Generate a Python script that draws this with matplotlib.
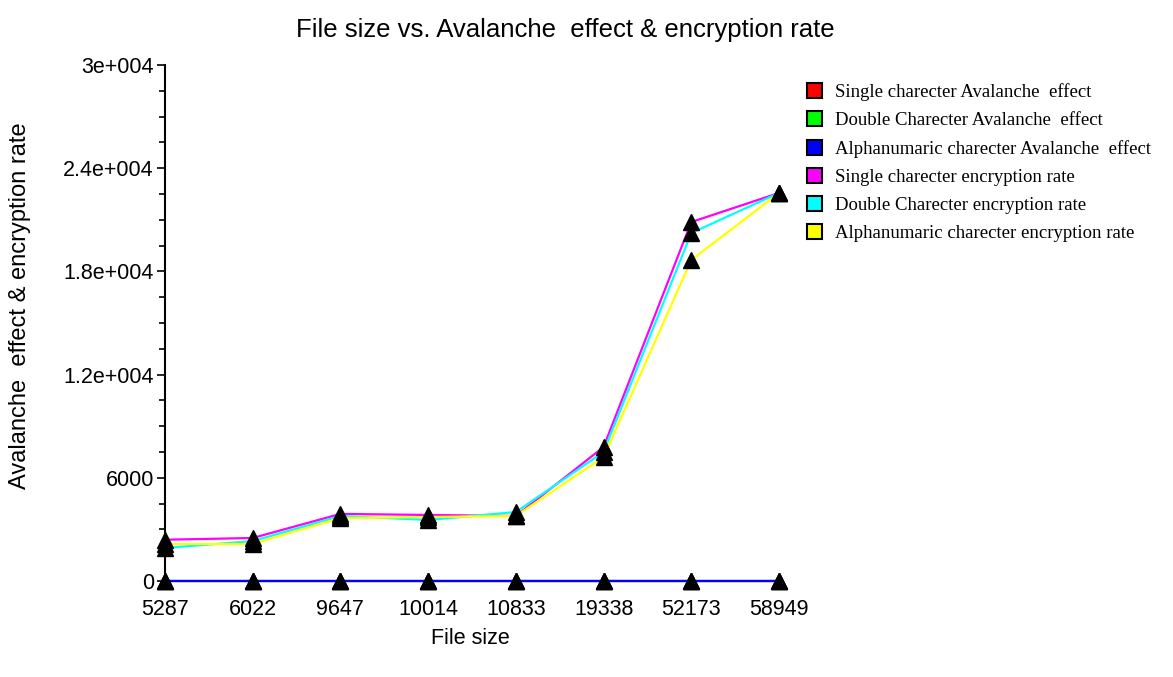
import numpy as np
import matplotlib
matplotlib.use("Agg")
import matplotlib.pyplot as plt
from matplotlib.patches import Patch
from matplotlib.ticker import FixedLocator, MultipleLocator


# File sizes (categorical x axis)
file_sizes = ["5287", "6022", "9647", "10014", "10833", "19338", "52173", "58949"]

# Avalanche effect series (all close to zero on this scale)
single_avalanche = [0, 0, 0, 0, 0, 0, 0, 0]
double_avalanche = [0, 0, 0, 0, 0, 0, 0, 0]
alnum_avalanche = [0, 0, 0, 0, 0, 0, 0, 0]

# Encryption rate series
single_rate = [2400, 2500, 3900, 3840, 3780, 7790, 20870, 22560]
double_rate = [1920, 2320, 3780, 3550, 4010, 7500, 20230, 22560]
alnum_rate = [2150, 2150, 3660, 3720, 3780, 7200, 18660, 22560]

series_names = ["Single charecter Avalanche  effect",
                "Double Charecter Avalanche  effect",
                "Alphanumaric charecter Avalanche  effect",
                "Single charecter encryption rate",
                "Double Charecter encryption rate",
                "Alphanumaric charecter encryption rate"]
series_colors = ["#ff0000", "#00ff00", "#0000ff", "#ff00ff", "#00ffff", "#ffff00"]

y_ticks = [0, 6000, 12000, 18000, 24000, 30000]
y_tick_labels = ["0", "6000", "1.2e+004", "1.8e+004", "2.4e+004", "3e+004"]


def main():
    fig = plt.figure(figsize=(11.73, 6.77), dpi=100)
    ax = fig.add_axes([165/1173, 1-581/677, (779-165)/1173, (581-65)/677])

    x = np.arange(len(file_sizes))
    all_series = [single_avalanche, double_avalanche, alnum_avalanche,
                  single_rate, double_rate, alnum_rate]

    # draw rates first so that avalanche lines sit on the zero line
    order = [3, 4, 5, 0, 1, 2]
    for i in order:
        ax.plot(x, all_series[i], color=series_colors[i], lw=1.6, zorder=2,
                clip_on=False)
    for i in order:
        ax.plot(x, all_series[i], ls="none", marker="^", color="black",
                markersize=11, zorder=3, clip_on=False)

    ax.set_xlim(0, len(file_sizes) - 1)
    ax.set_ylim(0, 30000)

    ax.set_xticks(x)
    ax.set_xticklabels(file_sizes, fontsize=15.5, family="Liberation Sans")
    ax.tick_params(axis="x", length=0, pad=13)

    ax.yaxis.set_major_locator(FixedLocator(y_ticks))
    ax.set_yticklabels(y_tick_labels, fontsize=15.5, family="Liberation Sans")
    ax.yaxis.set_minor_locator(MultipleLocator(1500))
    ax.tick_params(axis="y", which="major", length=6, width=1.2, direction="out", pad=2)
    ax.tick_params(axis="y", which="minor", length=4, width=1.2, direction="out")

    for s in ["top", "right", "bottom"]:
        ax.spines[s].set_visible(False)
    ax.spines["left"].set_linewidth(1.5)

    fig.text(565/1173, 1-30/677, "File size vs. Avalanche  effect & encryption rate",
             ha="center", va="center", fontsize=18.5, family="Liberation Sans")
    fig.text(470/1173, 1-638/677, "File size", ha="center", va="center",
             fontsize=15.5, family="Liberation Sans")
    fig.text(20/1173, 1-306/677, "Avalanche  effect & encryption rate",
             rotation=90, ha="center", va="center", fontsize=17,
             family="Liberation Sans")

    handles = [Patch(facecolor=c, edgecolor="black", lw=1.5) for c in series_colors]
    fig.legend(handles, series_names, loc="upper left",
               bbox_to_anchor=(807/1173, 1-83/677), frameon=False,
               prop={"family": "Liberation Serif", "size": 13.5},
               handlelength=0.8, handleheight=0.85, handletextpad=0.7,
               labelspacing=0.55, borderaxespad=0, borderpad=0)

    fig.savefig("out.png", dpi=100)


if __name__ == "__main__":
    main()
